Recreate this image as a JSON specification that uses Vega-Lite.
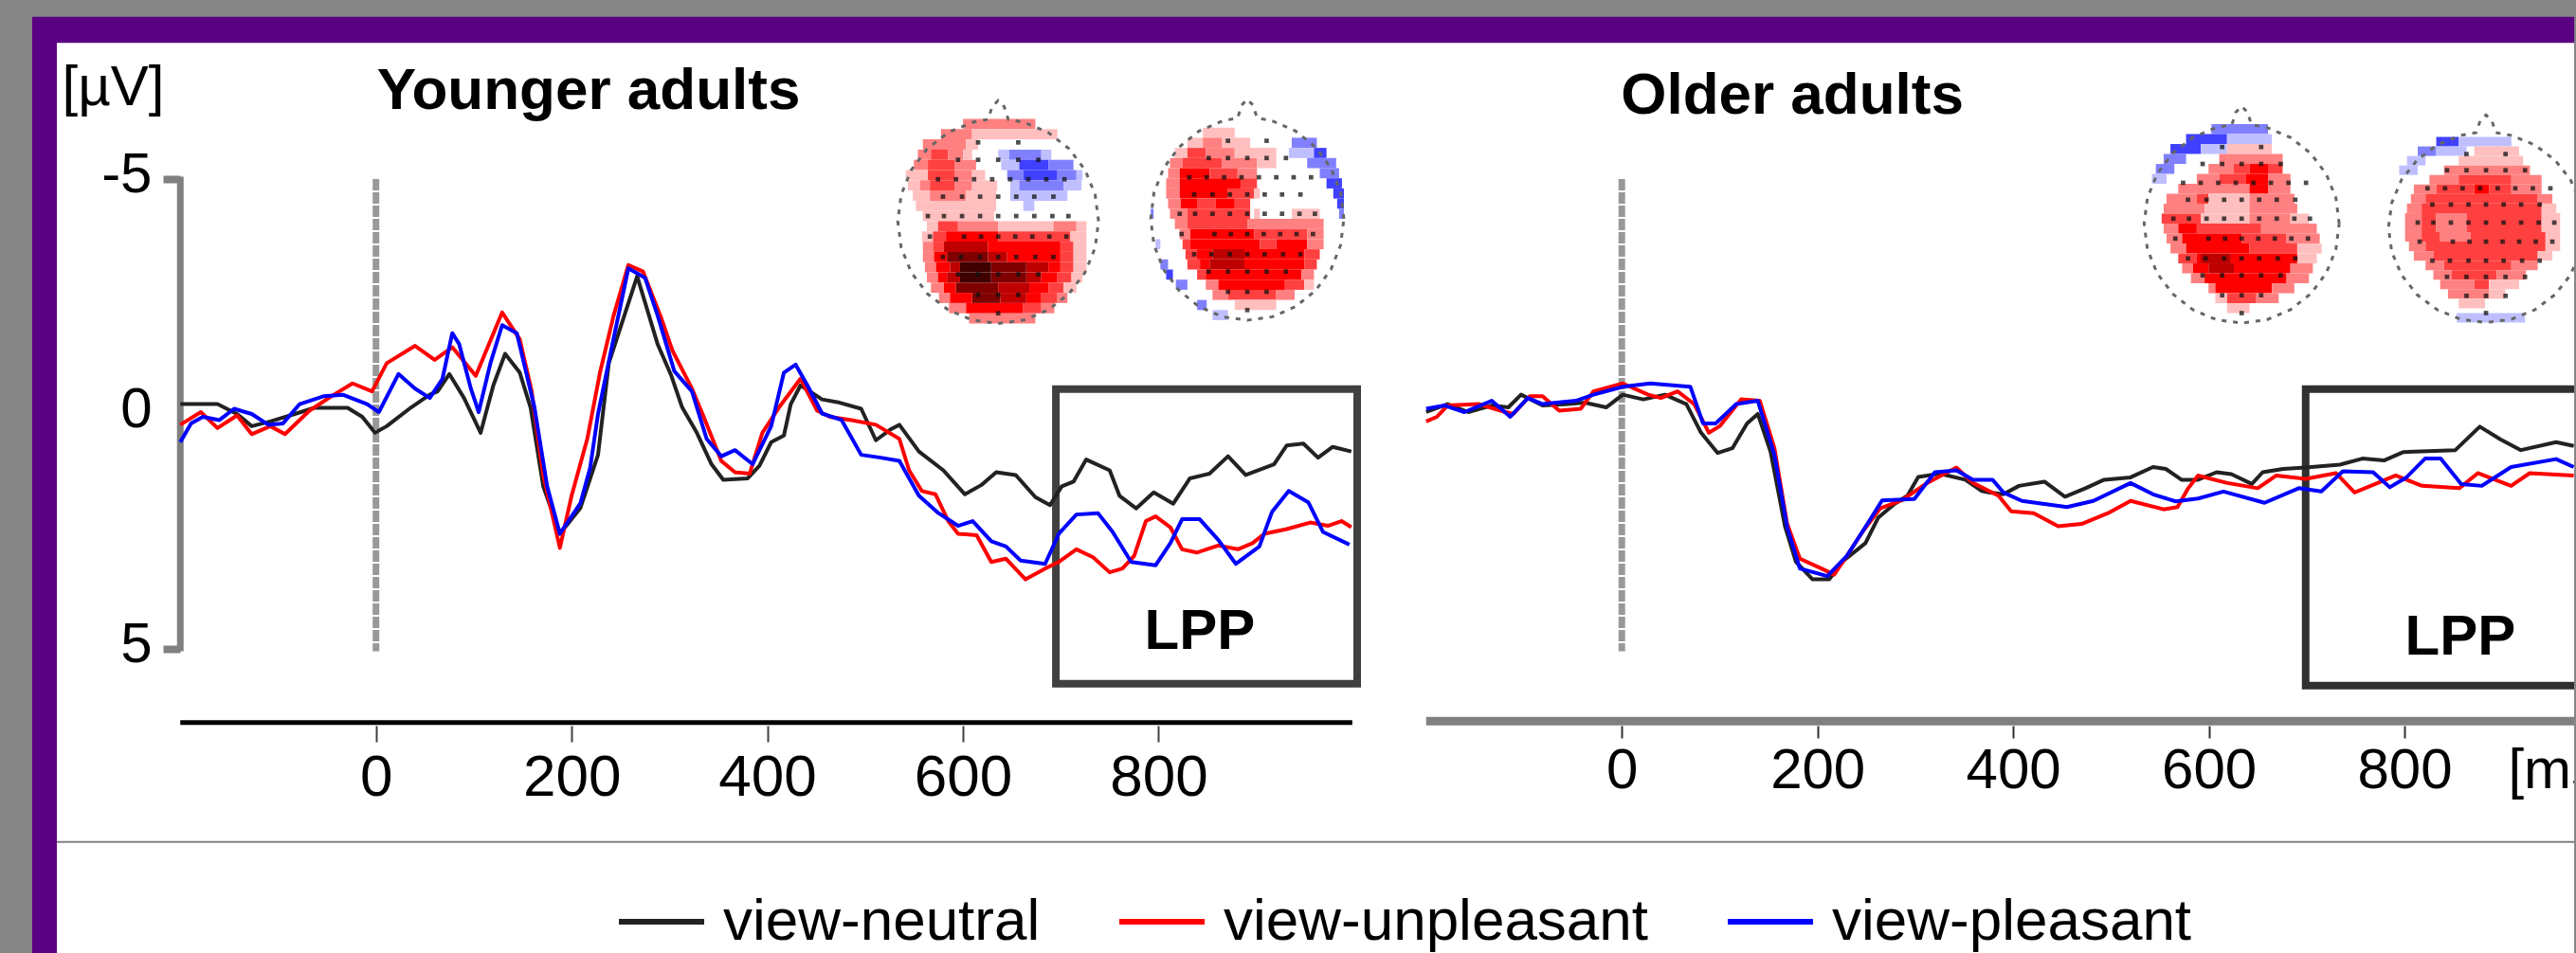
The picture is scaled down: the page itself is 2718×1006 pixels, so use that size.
{"$schema":"https://vega.github.io/schema/vega-lite/v6.json","width":2718,"height":1006,"autosize":{"type":"fit","contains":"padding"},"padding":0,"background":"#858585","config":{"view":{"stroke":null},"font":"Liberation Sans"},
"datasets":{
"frame":[{"a":-351.4,"b":2247,"c":-8.45,"d":11.47,"k":"frame"},{"a":-326.2,"b":2247,"c":-7.9,"d":11.47,"k":"paper"}],
"young":[
{"s":"view-neutral","t":-200,"v":-0.21},{"s":"view-neutral","t":-162,"v":-0.21},{"s":"view-neutral","t":-142,"v":0},{"s":"view-neutral","t":-127,"v":0.26},{"s":"view-neutral","t":-108,"v":0.16},{"s":"view-neutral","t":-83,"v":0},{"s":"view-neutral","t":-63,"v":-0.13},{"s":"view-neutral","t":-29,"v":-0.13},{"s":"view-neutral","t":-14,"v":0.06},{"s":"view-neutral","t":-1,"v":0.4},{"s":"view-neutral","t":11,"v":0.26},{"s":"view-neutral","t":36,"v":-0.14},{"s":"view-neutral","t":55,"v":-0.41},{"s":"view-neutral","t":63,"v":-0.48},{"s":"view-neutral","t":75,"v":-0.85},{"s":"view-neutral","t":90,"v":-0.34},{"s":"view-neutral","t":107,"v":0.4},{"s":"view-neutral","t":120,"v":-0.61},{"s":"view-neutral","t":132,"v":-1.28},{"s":"view-neutral","t":147,"v":-0.88},{"s":"view-neutral","t":158,"v":-0.14},{"s":"view-neutral","t":171,"v":1.54},{"s":"view-neutral","t":188,"v":2.55},{"s":"view-neutral","t":209,"v":2},{"s":"view-neutral","t":227,"v":0.87},{"s":"view-neutral","t":238,"v":-1.08},{"s":"view-neutral","t":267,"v":-2.93},{"s":"view-neutral","t":288,"v":-1.48},{"s":"view-neutral","t":302,"v":-0.81},{"s":"view-neutral","t":313,"v":-0.14},{"s":"view-neutral","t":328,"v":0.4},{"s":"view-neutral","t":343,"v":1.07},{"s":"view-neutral","t":355,"v":1.4},{"s":"view-neutral","t":380,"v":1.37},{"s":"view-neutral","t":392,"v":1.1},{"s":"view-neutral","t":404,"v":0.6},{"s":"view-neutral","t":417,"v":0.46},{"s":"view-neutral","t":424,"v":-0.21},{"s":"view-neutral","t":434,"v":-0.61},{"s":"view-neutral","t":456,"v":-0.31},{"s":"view-neutral","t":474,"v":-0.24},{"s":"view-neutral","t":496,"v":-0.11},{"s":"view-neutral","t":511,"v":0.56},{"s":"view-neutral","t":526,"v":0.33},{"s":"view-neutral","t":535,"v":0.23},{"s":"view-neutral","t":555,"v":0.8},{"s":"view-neutral","t":580,"v":1.2},{"s":"view-neutral","t":602,"v":1.71},{"s":"view-neutral","t":619,"v":1.51},{"s":"view-neutral","t":634,"v":1.24},{"s":"view-neutral","t":654,"v":1.3},{"s":"view-neutral","t":674,"v":1.77},{"s":"view-neutral","t":689,"v":1.94},{"s":"view-neutral","t":701,"v":1.54},{"s":"view-neutral","t":713,"v":1.44},{"s":"view-neutral","t":726,"v":0.97},{"s":"view-neutral","t":750,"v":1.2},{"s":"view-neutral","t":760,"v":1.74},{"s":"view-neutral","t":777,"v":2.01},{"s":"view-neutral","t":795,"v":1.67},{"s":"view-neutral","t":815,"v":1.91},{"s":"view-neutral","t":832,"v":1.37},{"s":"view-neutral","t":852,"v":1.27},{"s":"view-neutral","t":871,"v":0.9},{"s":"view-neutral","t":889,"v":1.3},{"s":"view-neutral","t":918,"v":1.07},{"s":"view-neutral","t":931,"v":0.67},{"s":"view-neutral","t":948,"v":0.63},{"s":"view-neutral","t":963,"v":0.93},{"s":"view-neutral","t":978,"v":0.7},{"s":"view-neutral","t":997,"v":0.8},
{"s":"view-unpleasant","t":-200,"v":0.23},{"s":"view-unpleasant","t":-179,"v":-0.04},{"s":"view-unpleasant","t":-162,"v":0.3},{"s":"view-unpleasant","t":-142,"v":0.03},{"s":"view-unpleasant","t":-127,"v":0.43},{"s":"view-unpleasant","t":-108,"v":0.26},{"s":"view-unpleasant","t":-93,"v":0.43},{"s":"view-unpleasant","t":-68,"v":-0.07},{"s":"view-unpleasant","t":-43,"v":-0.41},{"s":"view-unpleasant","t":-24,"v":-0.65},{"s":"view-unpleasant","t":-4,"v":-0.48},{"s":"view-unpleasant","t":11,"v":-1.08},{"s":"view-unpleasant","t":40,"v":-1.45},{"s":"view-unpleasant","t":60,"v":-1.15},{"s":"view-unpleasant","t":78,"v":-1.42},{"s":"view-unpleasant","t":102,"v":-0.81},{"s":"view-unpleasant","t":129,"v":-2.16},{"s":"view-unpleasant","t":147,"v":-1.59},{"s":"view-unpleasant","t":159,"v":-0.5},{"s":"view-unpleasant","t":171,"v":1.3},{"s":"view-unpleasant","t":188,"v":2.85},{"s":"view-unpleasant","t":200,"v":1.74},{"s":"view-unpleasant","t":216,"v":0.53},{"s":"view-unpleasant","t":229,"v":-0.88},{"s":"view-unpleasant","t":243,"v":-2.1},{"s":"view-unpleasant","t":258,"v":-3.17},{"s":"view-unpleasant","t":273,"v":-3.03},{"s":"view-unpleasant","t":292,"v":-2.02},{"s":"view-unpleasant","t":303,"v":-1.35},{"s":"view-unpleasant","t":323,"v":-0.54},{"s":"view-unpleasant","t":335,"v":0.06},{"s":"view-unpleasant","t":353,"v":1},{"s":"view-unpleasant","t":367,"v":1.24},{"s":"view-unpleasant","t":382,"v":1.27},{"s":"view-unpleasant","t":395,"v":0.4},{"s":"view-unpleasant","t":412,"v":-0.14},{"s":"view-unpleasant","t":434,"v":-0.75},{"s":"view-unpleasant","t":451,"v":-0.07},{"s":"view-unpleasant","t":464,"v":0.06},{"s":"view-unpleasant","t":486,"v":0.13},{"s":"view-unpleasant","t":511,"v":0.23},{"s":"view-unpleasant","t":535,"v":0.53},{"s":"view-unpleasant","t":545,"v":1.2},{"s":"view-unpleasant","t":558,"v":1.64},{"s":"view-unpleasant","t":572,"v":1.71},{"s":"view-unpleasant","t":585,"v":2.28},{"s":"view-unpleasant","t":595,"v":2.55},{"s":"view-unpleasant","t":614,"v":2.58},{"s":"view-unpleasant","t":629,"v":3.15},{"s":"view-unpleasant","t":644,"v":3.08},{"s":"view-unpleasant","t":664,"v":3.52},{"s":"view-unpleasant","t":684,"v":3.29},{"s":"view-unpleasant","t":698,"v":3.15},{"s":"view-unpleasant","t":716,"v":2.88},{"s":"view-unpleasant","t":733,"v":3.05},{"s":"view-unpleasant","t":750,"v":3.37},{"s":"view-unpleasant","t":763,"v":3.29},{"s":"view-unpleasant","t":775,"v":3.02},{"s":"view-unpleasant","t":787,"v":2.28},{"s":"view-unpleasant","t":797,"v":2.18},{"s":"view-unpleasant","t":812,"v":2.41},{"s":"view-unpleasant","t":824,"v":2.88},{"s":"view-unpleasant","t":839,"v":2.95},{"s":"view-unpleasant","t":861,"v":2.8},{"s":"view-unpleasant","t":881,"v":2.88},{"s":"view-unpleasant","t":896,"v":2.75},{"s":"view-unpleasant","t":908,"v":2.55},{"s":"view-unpleasant","t":931,"v":2.45},{"s":"view-unpleasant","t":955,"v":2.31},{"s":"view-unpleasant","t":973,"v":2.38},{"s":"view-unpleasant","t":987,"v":2.28},{"s":"view-unpleasant","t":997,"v":2.41},
{"s":"view-pleasant","t":-200,"v":0.6},{"s":"view-pleasant","t":-189,"v":0.2},{"s":"view-pleasant","t":-177,"v":0.06},{"s":"view-pleasant","t":-160,"v":0.13},{"s":"view-pleasant","t":-145,"v":-0.11},{"s":"view-pleasant","t":-127,"v":0},{"s":"view-pleasant","t":-110,"v":0.23},{"s":"view-pleasant","t":-95,"v":0.2},{"s":"view-pleasant","t":-78,"v":-0.21},{"s":"view-pleasant","t":-53,"v":-0.38},{"s":"view-pleasant","t":-34,"v":-0.41},{"s":"view-pleasant","t":-9,"v":-0.21},{"s":"view-pleasant","t":3,"v":-0.04},{"s":"view-pleasant","t":23,"v":-0.85},{"s":"view-pleasant","t":40,"v":-0.54},{"s":"view-pleasant","t":55,"v":-0.34},{"s":"view-pleasant","t":68,"v":-0.75},{"s":"view-pleasant","t":78,"v":-1.72},{"s":"view-pleasant","t":85,"v":-1.49},{"s":"view-pleasant","t":97,"v":-0.54},{"s":"view-pleasant","t":105,"v":-0.04},{"s":"view-pleasant","t":117,"v":-1.08},{"s":"view-pleasant","t":129,"v":-1.89},{"s":"view-pleasant","t":144,"v":-1.72},{"s":"view-pleasant","t":162,"v":-0.14},{"s":"view-pleasant","t":175,"v":1.54},{"s":"view-pleasant","t":188,"v":2.55},{"s":"view-pleasant","t":209,"v":1.9},{"s":"view-pleasant","t":219,"v":1.14},{"s":"view-pleasant","t":227,"v":0},{"s":"view-pleasant","t":241,"v":-1.42},{"s":"view-pleasant","t":258,"v":-3.1},{"s":"view-pleasant","t":275,"v":-2.9},{"s":"view-pleasant","t":288,"v":-2.09},{"s":"view-pleasant","t":305,"v":-0.91},{"s":"view-pleasant","t":323,"v":-0.48},{"s":"view-pleasant","t":338,"v":0.53},{"s":"view-pleasant","t":353,"v":0.9},{"s":"view-pleasant","t":367,"v":0.77},{"s":"view-pleasant","t":385,"v":1.07},{"s":"view-pleasant","t":404,"v":0.26},{"s":"view-pleasant","t":417,"v":-0.88},{"s":"view-pleasant","t":429,"v":-1.05},{"s":"view-pleasant","t":441,"v":-0.61},{"s":"view-pleasant","t":456,"v":-0.01},{"s":"view-pleasant","t":476,"v":0.13},{"s":"view-pleasant","t":496,"v":0.87},{"s":"view-pleasant","t":516,"v":0.93},{"s":"view-pleasant","t":535,"v":1},{"s":"view-pleasant","t":555,"v":1.74},{"s":"view-pleasant","t":575,"v":2.11},{"s":"view-pleasant","t":595,"v":2.38},{"s":"view-pleasant","t":610,"v":2.28},{"s":"view-pleasant","t":629,"v":2.71},{"s":"view-pleasant","t":644,"v":2.82},{"s":"view-pleasant","t":659,"v":3.12},{"s":"view-pleasant","t":684,"v":3.19},{"s":"view-pleasant","t":698,"v":2.55},{"s":"view-pleasant","t":716,"v":2.14},{"s":"view-pleasant","t":738,"v":2.11},{"s":"view-pleasant","t":753,"v":2.51},{"s":"view-pleasant","t":772,"v":3.15},{"s":"view-pleasant","t":797,"v":3.22},{"s":"view-pleasant","t":812,"v":2.75},{"s":"view-pleasant","t":824,"v":2.24},{"s":"view-pleasant","t":842,"v":2.24},{"s":"view-pleasant","t":861,"v":2.68},{"s":"view-pleasant","t":879,"v":3.19},{"s":"view-pleasant","t":903,"v":2.82},{"s":"view-pleasant","t":916,"v":2.08},{"s":"view-pleasant","t":933,"v":1.64},{"s":"view-pleasant","t":953,"v":1.88},{"s":"view-pleasant","t":968,"v":2.51},{"s":"view-pleasant","t":995,"v":2.78}
],
"older":[
{"s":"view-neutral","t":-200,"v":-0.04},{"s":"view-neutral","t":-178,"v":-0.21},{"s":"view-neutral","t":-157,"v":-0.04},{"s":"view-neutral","t":-133,"v":-0.18},{"s":"view-neutral","t":-116,"v":-0.14},{"s":"view-neutral","t":-103,"v":-0.41},{"s":"view-neutral","t":-81,"v":-0.18},{"s":"view-neutral","t":-55,"v":-0.21},{"s":"view-neutral","t":-38,"v":-0.24},{"s":"view-neutral","t":-16,"v":-0.14},{"s":"view-neutral","t":1,"v":-0.41},{"s":"view-neutral","t":22,"v":-0.31},{"s":"view-neutral","t":44,"v":-0.41},{"s":"view-neutral","t":66,"v":-0.21},{"s":"view-neutral","t":81,"v":0.4},{"s":"view-neutral","t":98,"v":0.83},{"s":"view-neutral","t":113,"v":0.73},{"s":"view-neutral","t":128,"v":0.2},{"s":"view-neutral","t":139,"v":0},{"s":"view-neutral","t":152,"v":0.8},{"s":"view-neutral","t":167,"v":2.41},{"s":"view-neutral","t":178,"v":3.15},{"s":"view-neutral","t":195,"v":3.52},{"s":"view-neutral","t":212,"v":3.52},{"s":"view-neutral","t":225,"v":3.15},{"s":"view-neutral","t":249,"v":2.75},{"s":"view-neutral","t":262,"v":2.21},{"s":"view-neutral","t":279,"v":1.91},{"s":"view-neutral","t":292,"v":1.74},{"s":"view-neutral","t":303,"v":1.34},{"s":"view-neutral","t":325,"v":1.27},{"s":"view-neutral","t":351,"v":1.4},{"s":"view-neutral","t":368,"v":1.64},{"s":"view-neutral","t":375,"v":1.67},{"s":"view-neutral","t":390,"v":1.71},{"s":"view-neutral","t":406,"v":1.53},{"s":"view-neutral","t":432,"v":1.44},{"s":"view-neutral","t":453,"v":1.76},{"s":"view-neutral","t":474,"v":1.58},{"s":"view-neutral","t":493,"v":1.4},{"s":"view-neutral","t":520,"v":1.35},{"s":"view-neutral","t":543,"v":1.13},{"s":"view-neutral","t":556,"v":1.17},{"s":"view-neutral","t":572,"v":1.4},{"s":"view-neutral","t":589,"v":1.4},{"s":"view-neutral","t":608,"v":1.24},{"s":"view-neutral","t":623,"v":1.28},{"s":"view-neutral","t":644,"v":1.49},{"s":"view-neutral","t":655,"v":1.24},{"s":"view-neutral","t":676,"v":1.17},{"s":"view-neutral","t":699,"v":1.14},{"s":"view-neutral","t":734,"v":1.08},{"s":"view-neutral","t":757,"v":0.95},{"s":"view-neutral","t":779,"v":0.99},{"s":"view-neutral","t":799,"v":0.81},{"s":"view-neutral","t":852,"v":0.77},{"s":"view-neutral","t":877,"v":0.27},{"s":"view-neutral","t":898,"v":0.54},{"s":"view-neutral","t":919,"v":0.77},{"s":"view-neutral","t":955,"v":0.6},{"s":"view-neutral","t":973,"v":0.68},
{"s":"view-unpleasant","t":-200,"v":0.16},{"s":"view-unpleasant","t":-189,"v":0.06},{"s":"view-unpleasant","t":-178,"v":-0.18},{"s":"view-unpleasant","t":-146,"v":-0.21},{"s":"view-unpleasant","t":-124,"v":-0.07},{"s":"view-unpleasant","t":-111,"v":0},{"s":"view-unpleasant","t":-94,"v":-0.38},{"s":"view-unpleasant","t":-81,"v":-0.38},{"s":"view-unpleasant","t":-64,"v":-0.07},{"s":"view-unpleasant","t":-42,"v":-0.11},{"s":"view-unpleasant","t":-29,"v":-0.48},{"s":"view-unpleasant","t":1,"v":-0.65},{"s":"view-unpleasant","t":27,"v":-0.41},{"s":"view-unpleasant","t":40,"v":-0.34},{"s":"view-unpleasant","t":57,"v":-0.48},{"s":"view-unpleasant","t":74,"v":-0.21},{"s":"view-unpleasant","t":89,"v":0.4},{"s":"view-unpleasant","t":100,"v":0.26},{"s":"view-unpleasant","t":122,"v":-0.31},{"s":"view-unpleasant","t":141,"v":-0.28},{"s":"view-unpleasant","t":156,"v":0.73},{"s":"view-unpleasant","t":169,"v":2.34},{"s":"view-unpleasant","t":182,"v":3.08},{"s":"view-unpleasant","t":204,"v":3.29},{"s":"view-unpleasant","t":217,"v":3.42},{"s":"view-unpleasant","t":230,"v":3.02},{"s":"view-unpleasant","t":247,"v":2.48},{"s":"view-unpleasant","t":264,"v":2.01},{"s":"view-unpleasant","t":286,"v":1.84},{"s":"view-unpleasant","t":312,"v":1.47},{"s":"view-unpleasant","t":342,"v":1.14},{"s":"view-unpleasant","t":359,"v":1.47},{"s":"view-unpleasant","t":385,"v":1.74},{"s":"view-unpleasant","t":398,"v":2.07},{"s":"view-unpleasant","t":421,"v":2.11},{"s":"view-unpleasant","t":446,"v":2.39},{"s":"view-unpleasant","t":470,"v":2.34},{"s":"view-unpleasant","t":497,"v":2.11},{"s":"view-unpleasant","t":520,"v":1.85},{"s":"view-unpleasant","t":554,"v":2.03},{"s":"view-unpleasant","t":568,"v":1.98},{"s":"view-unpleasant","t":579,"v":1.58},{"s":"view-unpleasant","t":589,"v":1.31},{"s":"view-unpleasant","t":619,"v":1.47},{"s":"view-unpleasant","t":650,"v":1.58},{"s":"view-unpleasant","t":669,"v":1.31},{"s":"view-unpleasant","t":699,"v":1.38},{"s":"view-unpleasant","t":730,"v":1.26},{"s":"view-unpleasant","t":749,"v":1.67},{"s":"view-unpleasant","t":776,"v":1.44},{"s":"view-unpleasant","t":791,"v":1.31},{"s":"view-unpleasant","t":818,"v":1.53},{"s":"view-unpleasant","t":856,"v":1.58},{"s":"view-unpleasant","t":875,"v":1.26},{"s":"view-unpleasant","t":909,"v":1.53},{"s":"view-unpleasant","t":928,"v":1.26},{"s":"view-unpleasant","t":973,"v":1.31},
{"s":"view-pleasant","t":-200,"v":-0.11},{"s":"view-pleasant","t":-181,"v":-0.18},{"s":"view-pleasant","t":-161,"v":-0.04},{"s":"view-pleasant","t":-133,"v":-0.28},{"s":"view-pleasant","t":-114,"v":0.06},{"s":"view-pleasant","t":-96,"v":-0.34},{"s":"view-pleasant","t":-81,"v":-0.21},{"s":"view-pleasant","t":-47,"v":-0.28},{"s":"view-pleasant","t":-29,"v":-0.41},{"s":"view-pleasant","t":1,"v":-0.58},{"s":"view-pleasant","t":29,"v":-0.65},{"s":"view-pleasant","t":70,"v":-0.58},{"s":"view-pleasant","t":83,"v":0.2},{"s":"view-pleasant","t":96,"v":0.2},{"s":"view-pleasant","t":117,"v":-0.21},{"s":"view-pleasant","t":139,"v":-0.28},{"s":"view-pleasant","t":156,"v":0.87},{"s":"view-pleasant","t":169,"v":2.41},{"s":"view-pleasant","t":182,"v":3.29},{"s":"view-pleasant","t":210,"v":3.45},{"s":"view-pleasant","t":230,"v":3.02},{"s":"view-pleasant","t":251,"v":2.34},{"s":"view-pleasant","t":266,"v":1.84},{"s":"view-pleasant","t":299,"v":1.81},{"s":"view-pleasant","t":320,"v":1.24},{"s":"view-pleasant","t":342,"v":1.2},{"s":"view-pleasant","t":359,"v":1.4},{"s":"view-pleasant","t":379,"v":1.4},{"s":"view-pleasant","t":390,"v":1.67},{"s":"view-pleasant","t":409,"v":1.85},{"s":"view-pleasant","t":455,"v":1.98},{"s":"view-pleasant","t":482,"v":1.85},{"s":"view-pleasant","t":520,"v":1.47},{"s":"view-pleasant","t":543,"v":1.71},{"s":"view-pleasant","t":566,"v":1.86},{"s":"view-pleasant","t":589,"v":1.8},{"s":"view-pleasant","t":615,"v":1.65},{"s":"view-pleasant","t":657,"v":1.89},{"s":"view-pleasant","t":692,"v":1.58},{"s":"view-pleasant","t":715,"v":1.65},{"s":"view-pleasant","t":737,"v":1.22},{"s":"view-pleasant","t":768,"v":1.24},{"s":"view-pleasant","t":785,"v":1.56},{"s":"view-pleasant","t":802,"v":1.35},{"s":"view-pleasant","t":821,"v":0.95},{"s":"view-pleasant","t":837,"v":0.95},{"s":"view-pleasant","t":858,"v":1.49},{"s":"view-pleasant","t":879,"v":1.53},{"s":"view-pleasant","t":909,"v":1.13},{"s":"view-pleasant","t":955,"v":0.96},{"s":"view-pleasant","t":973,"v":1.13}
],
"rim":[{"i":0,"u":1,"w":0},{"i":1,"u":0.966,"w":0.259},{"i":2,"u":0.866,"w":0.5},{"i":3,"u":0.707,"w":0.707},{"i":4,"u":0.5,"w":0.866},{"i":5,"u":0.259,"w":0.966},{"i":6,"u":0.1,"w":0.995},{"i":7,"u":0.06,"w":1.12},{"i":8,"u":0,"w":1.18},{"i":9,"u":-0.06,"w":1.12},{"i":10,"u":-0.1,"w":0.995},{"i":11,"u":-0.259,"w":0.966},{"i":12,"u":-0.5,"w":0.866},{"i":13,"u":-0.707,"w":0.707},{"i":14,"u":-0.866,"w":0.5},{"i":15,"u":-0.966,"w":0.259},{"i":16,"u":-1,"w":0},{"i":17,"u":-0.966,"w":-0.259},{"i":18,"u":-0.866,"w":-0.5},{"i":19,"u":-0.707,"w":-0.707},{"i":20,"u":-0.5,"w":-0.866},{"i":21,"u":-0.259,"w":-0.966},{"i":22,"u":0,"w":-1},{"i":23,"u":0.259,"w":-0.966},{"i":24,"u":0.5,"w":-0.866},{"i":25,"u":0.707,"w":-0.707},{"i":26,"u":0.866,"w":-0.5},{"i":27,"u":0.966,"w":-0.259},{"i":28,"u":1,"w":0}],
"electrodes":[{"u":-0.2,"w":0.77},{"u":0.2,"w":0.77},{"u":-0.4,"w":0.6},{"u":-0.2,"w":0.6},{"u":0,"w":0.6},{"u":0.2,"w":0.6},{"u":0.4,"w":0.6},{"u":-0.6,"w":0.41},{"u":-0.42,"w":0.41},{"u":-0.24,"w":0.41},{"u":-0.06,"w":0.41},{"u":0.12,"w":0.41},{"u":0.3,"w":0.41},{"u":0.48,"w":0.41},{"u":0.66,"w":0.41},{"u":-0.55,"w":0.24},{"u":-0.36,"w":0.24},{"u":-0.18,"w":0.24},{"u":0,"w":0.24},{"u":0.18,"w":0.24},{"u":0.36,"w":0.24},{"u":0.55,"w":0.24},{"u":-0.7,"w":0.05},{"u":-0.54,"w":0.05},{"u":-0.36,"w":0.05},{"u":-0.18,"w":0.05},{"u":0,"w":0.05},{"u":0.18,"w":0.05},{"u":0.36,"w":0.05},{"u":0.54,"w":0.05},{"u":0.7,"w":0.05},{"u":-0.68,"w":-0.15},{"u":-0.34,"w":-0.15},{"u":-0.17,"w":-0.15},{"u":0,"w":-0.15},{"u":0.17,"w":-0.15},{"u":0.34,"w":-0.15},{"u":0.51,"w":-0.15},{"u":0.68,"w":-0.15},{"u":-0.55,"w":-0.35},{"u":-0.37,"w":-0.35},{"u":-0.18,"w":-0.35},{"u":0,"w":-0.35},{"u":0.18,"w":-0.35},{"u":0.37,"w":-0.35},{"u":0.55,"w":-0.35},{"u":-0.4,"w":-0.52},{"u":-0.2,"w":-0.52},{"u":0,"w":-0.52},{"u":0.2,"w":-0.52},{"u":0.4,"w":-0.52},{"u":-0.2,"w":-0.72},{"u":0,"w":-0.72},{"u":0.2,"w":-0.72},{"u":0,"w":-0.9}],
"map1":[{"a":-0.35,"b":0.37,"c":0.9,"d":1,"v":2},{"a":-0.57,"b":-0.26,"c":0.8,"d":0.9,"v":2},{"a":-0.26,"b":0.59,"c":0.8,"d":0.9,"v":1},{"a":-0.75,"b":-0.32,"c":0.7,"d":0.8,"v":2},{"a":-0.32,"b":-0.2,"c":0.7,"d":0.8,"v":1},{"a":-0.8,"b":-0.67,"c":0.6,"d":0.7,"v":2},{"a":-0.67,"b":-0.5,"c":0.6,"d":0.7,"v":3},{"a":-0.5,"b":-0.35,"c":0.6,"d":0.7,"v":2},{"a":-0.35,"b":-0.26,"c":0.6,"d":0.7,"v":1},{"a":0,"b":0.11,"c":0.6,"d":0.7,"v":-1},{"a":0.11,"b":0.43,"c":0.6,"d":0.7,"v":-2},{"a":0.43,"b":0.53,"c":0.6,"d":0.7,"v":-1},{"a":-0.84,"b":-0.7,"c":0.5,"d":0.6,"v":2},{"a":-0.7,"b":-0.43,"c":0.5,"d":0.6,"v":3},{"a":-0.43,"b":-0.22,"c":0.5,"d":0.6,"v":2},{"a":0.03,"b":0.21,"c":0.5,"d":0.6,"v":-1},{"a":0.21,"b":0.5,"c":0.5,"d":0.6,"v":-3},{"a":0.5,"b":0.75,"c":0.5,"d":0.6,"v":-2},{"a":-0.92,"b":-0.7,"c":0.4,"d":0.5,"v":1},{"a":-0.7,"b":-0.43,"c":0.4,"d":0.5,"v":3},{"a":-0.43,"b":-0.26,"c":0.4,"d":0.5,"v":2},{"a":-0.26,"b":-0.13,"c":0.4,"d":0.5,"v":1},{"a":0.09,"b":0.25,"c":0.4,"d":0.5,"v":-2},{"a":0.25,"b":0.59,"c":0.4,"d":0.5,"v":-3},{"a":0.59,"b":0.78,"c":0.4,"d":0.5,"v":-2},{"a":0.78,"b":0.84,"c":0.4,"d":0.5,"v":-1},{"a":-0.9,"b":-0.78,"c":0.3,"d":0.4,"v":1},{"a":-0.78,"b":-0.68,"c":0.3,"d":0.4,"v":2},{"a":-0.68,"b":-0.43,"c":0.3,"d":0.4,"v":3},{"a":-0.43,"b":-0.26,"c":0.3,"d":0.4,"v":2},{"a":-0.26,"b":-0.01,"c":0.3,"d":0.4,"v":1},{"a":0.12,"b":0.21,"c":0.3,"d":0.4,"v":-1},{"a":0.21,"b":0.65,"c":0.3,"d":0.4,"v":-2},{"a":0.65,"b":0.83,"c":0.3,"d":0.4,"v":-1},{"a":-0.85,"b":-0.68,"c":0.2,"d":0.3,"v":1},{"a":-0.68,"b":-0.32,"c":0.2,"d":0.3,"v":2},{"a":-0.32,"b":-0.02,"c":0.2,"d":0.3,"v":1},{"a":0.12,"b":0.69,"c":0.2,"d":0.3,"v":-1},{"a":-0.82,"b":-0.02,"c":0.1,"d":0.2,"v":1},{"a":0.25,"b":0.36,"c":0.1,"d":0.2,"v":-1},{"a":-0.75,"b":-0.04,"c":0,"d":0.1,"v":1},{"a":-0.71,"b":-0.6,"c":-0.1,"d":0,"v":1},{"a":-0.6,"b":-0.4,"c":-0.1,"d":0,"v":3},{"a":-0.4,"b":0,"c":-0.1,"d":0,"v":2},{"a":0,"b":0.55,"c":-0.1,"d":0,"v":1},{"a":0.55,"b":0.78,"c":-0.1,"d":0,"v":2},{"a":0.78,"b":0.88,"c":-0.1,"d":0,"v":1},{"a":-0.76,"b":-0.65,"c":-0.2,"d":-0.1,"v":1},{"a":-0.65,"b":-0.52,"c":-0.2,"d":-0.1,"v":3},{"a":-0.52,"b":0,"c":-0.2,"d":-0.1,"v":4},{"a":0,"b":0.72,"c":-0.2,"d":-0.1,"v":3},{"a":0.72,"b":0.88,"c":-0.2,"d":-0.1,"v":1},{"a":-0.75,"b":-0.65,"c":-0.3,"d":-0.2,"v":2},{"a":-0.65,"b":-0.54,"c":-0.3,"d":-0.2,"v":3},{"a":-0.54,"b":-0.1,"c":-0.3,"d":-0.2,"v":5},{"a":-0.1,"b":0.62,"c":-0.3,"d":-0.2,"v":4},{"a":0.62,"b":0.75,"c":-0.3,"d":-0.2,"v":3},{"a":0.75,"b":0.88,"c":-0.3,"d":-0.2,"v":1},{"a":-0.75,"b":-0.64,"c":-0.4,"d":-0.3,"v":2},{"a":-0.64,"b":-0.51,"c":-0.4,"d":-0.3,"v":4},{"a":-0.51,"b":-0.1,"c":-0.4,"d":-0.3,"v":6},{"a":-0.1,"b":0.09,"c":-0.4,"d":-0.3,"v":5},{"a":0.09,"b":0.62,"c":-0.4,"d":-0.3,"v":4},{"a":0.62,"b":0.75,"c":-0.4,"d":-0.3,"v":3},{"a":0.75,"b":0.88,"c":-0.4,"d":-0.3,"v":1},{"a":-0.73,"b":-0.62,"c":-0.5,"d":-0.4,"v":2},{"a":-0.62,"b":-0.48,"c":-0.5,"d":-0.4,"v":4},{"a":-0.48,"b":-0.38,"c":-0.5,"d":-0.4,"v":5},{"a":-0.38,"b":-0.07,"c":-0.5,"d":-0.4,"v":7},{"a":-0.07,"b":0.28,"c":-0.5,"d":-0.4,"v":6},{"a":0.28,"b":0.5,"c":-0.5,"d":-0.4,"v":5},{"a":0.5,"b":0.62,"c":-0.5,"d":-0.4,"v":4},{"a":0.62,"b":0.75,"c":-0.5,"d":-0.4,"v":3},{"a":0.75,"b":0.88,"c":-0.5,"d":-0.4,"v":1},{"a":-0.71,"b":-0.6,"c":-0.6,"d":-0.5,"v":2},{"a":-0.6,"b":-0.51,"c":-0.6,"d":-0.5,"v":4},{"a":-0.51,"b":-0.38,"c":-0.6,"d":-0.5,"v":5},{"a":-0.38,"b":-0.07,"c":-0.6,"d":-0.5,"v":7},{"a":-0.07,"b":0.28,"c":-0.6,"d":-0.5,"v":6},{"a":0.28,"b":0.43,"c":-0.6,"d":-0.5,"v":5},{"a":0.43,"b":0.59,"c":-0.6,"d":-0.5,"v":4},{"a":0.59,"b":0.73,"c":-0.6,"d":-0.5,"v":3},{"a":0.73,"b":0.84,"c":-0.6,"d":-0.5,"v":1},{"a":-0.67,"b":-0.54,"c":-0.7,"d":-0.6,"v":2},{"a":-0.54,"b":-0.42,"c":-0.7,"d":-0.6,"v":4},{"a":-0.42,"b":0,"c":-0.7,"d":-0.6,"v":6},{"a":0,"b":0.31,"c":-0.7,"d":-0.6,"v":5},{"a":0.31,"b":0.5,"c":-0.7,"d":-0.6,"v":4},{"a":0.5,"b":0.65,"c":-0.7,"d":-0.6,"v":3},{"a":0.65,"b":0.78,"c":-0.7,"d":-0.6,"v":1},{"a":-0.59,"b":-0.48,"c":-0.8,"d":-0.7,"v":2},{"a":-0.48,"b":-0.26,"c":-0.8,"d":-0.7,"v":4},{"a":-0.26,"b":0.02,"c":-0.8,"d":-0.7,"v":6},{"a":0.02,"b":0.28,"c":-0.8,"d":-0.7,"v":5},{"a":0.28,"b":0.43,"c":-0.8,"d":-0.7,"v":4},{"a":0.43,"b":0.59,"c":-0.8,"d":-0.7,"v":3},{"a":0.59,"b":0.69,"c":-0.8,"d":-0.7,"v":2},{"a":-0.49,"b":-0.32,"c":-0.9,"d":-0.8,"v":2},{"a":-0.32,"b":0.25,"c":-0.9,"d":-0.8,"v":4},{"a":0.25,"b":0.43,"c":-0.9,"d":-0.8,"v":3},{"a":0.43,"b":0.56,"c":-0.9,"d":-0.8,"v":2},{"a":-0.29,"b":0.37,"c":-1,"d":-0.9,"v":2}],
"map2":[{"a":-0.46,"b":-0.13,"c":0.8,"d":0.9,"v":1},{"a":-0.62,"b":-0.46,"c":0.7,"d":0.8,"v":1},{"a":-0.46,"b":-0.26,"c":0.7,"d":0.8,"v":2},{"a":-0.26,"b":0.03,"c":0.7,"d":0.8,"v":1},{"a":0.46,"b":0.72,"c":0.7,"d":0.8,"v":-2},{"a":-0.75,"b":-0.62,"c":0.6,"d":0.7,"v":1},{"a":-0.62,"b":-0.43,"c":0.6,"d":0.7,"v":3},{"a":-0.43,"b":-0.13,"c":0.6,"d":0.7,"v":2},{"a":-0.13,"b":0.3,"c":0.6,"d":0.7,"v":1},{"a":0.43,"b":0.69,"c":0.6,"d":0.7,"v":-1},{"a":0.69,"b":0.82,"c":0.6,"d":0.7,"v":-3},{"a":-0.8,"b":-0.67,"c":0.5,"d":0.6,"v":2},{"a":-0.67,"b":-0.26,"c":0.5,"d":0.6,"v":3},{"a":-0.26,"b":0.1,"c":0.5,"d":0.6,"v":2},{"a":0.1,"b":0.3,"c":0.5,"d":0.6,"v":1},{"a":0.62,"b":0.92,"c":0.5,"d":0.6,"v":-2},{"a":-0.82,"b":-0.7,"c":0.4,"d":0.5,"v":2},{"a":-0.7,"b":-0.39,"c":0.4,"d":0.5,"v":4},{"a":-0.39,"b":-0.1,"c":0.4,"d":0.5,"v":3},{"a":-0.1,"b":0.1,"c":0.4,"d":0.5,"v":2},{"a":0.75,"b":0.95,"c":0.4,"d":0.5,"v":-2},{"a":-0.84,"b":-0.7,"c":0.3,"d":0.4,"v":2},{"a":-0.7,"b":-0.07,"c":0.3,"d":0.4,"v":4},{"a":-0.07,"b":0.1,"c":0.3,"d":0.4,"v":3},{"a":0.82,"b":0.98,"c":0.3,"d":0.4,"v":-3},{"a":-0.84,"b":-0.7,"c":0.2,"d":0.3,"v":2},{"a":-0.7,"b":-0.2,"c":0.2,"d":0.3,"v":4},{"a":-0.2,"b":0.07,"c":0.2,"d":0.3,"v":3},{"a":0.07,"b":0.13,"c":0.2,"d":0.3,"v":1},{"a":0.89,"b":1,"c":0.2,"d":0.3,"v":-3},{"a":-0.82,"b":-0.69,"c":0.1,"d":0.2,"v":2},{"a":-0.69,"b":-0.52,"c":0.1,"d":0.2,"v":4},{"a":-0.52,"b":-0.33,"c":0.1,"d":0.2,"v":3},{"a":-0.33,"b":-0.13,"c":0.1,"d":0.2,"v":4},{"a":-0.13,"b":0.03,"c":0.1,"d":0.2,"v":3},{"a":0.93,"b":1,"c":0.1,"d":0.2,"v":-3},{"a":-0.8,"b":-0.62,"c":0,"d":0.1,"v":2},{"a":-0.62,"b":0.03,"c":0,"d":0.1,"v":3},{"a":0.07,"b":0.13,"c":0,"d":0.1,"v":1},{"a":0.46,"b":0.75,"c":0,"d":0.1,"v":1},{"a":0.95,"b":1,"c":0,"d":0.1,"v":-2},{"a":-1,"b":-0.97,"c":0,"d":0.1,"v":-2},{"a":-0.75,"b":-0.62,"c":-0.1,"d":0,"v":2},{"a":-0.62,"b":0,"c":-0.1,"d":0,"v":3},{"a":0,"b":0.79,"c":-0.1,"d":0,"v":2},{"a":-0.7,"b":-0.59,"c":-0.2,"d":-0.1,"v":2},{"a":-0.59,"b":0.07,"c":-0.2,"d":-0.1,"v":4},{"a":0.07,"b":0.62,"c":-0.2,"d":-0.1,"v":3},{"a":0.62,"b":0.79,"c":-0.2,"d":-0.1,"v":2},{"a":-0.67,"b":-0.59,"c":-0.3,"d":-0.2,"v":3},{"a":-0.59,"b":0.13,"c":-0.3,"d":-0.2,"v":4},{"a":0.13,"b":0.3,"c":-0.3,"d":-0.2,"v":3},{"a":0.3,"b":0.62,"c":-0.3,"d":-0.2,"v":4},{"a":0.62,"b":0.79,"c":-0.3,"d":-0.2,"v":2},{"a":-0.95,"b":-0.9,"c":-0.3,"d":-0.2,"v":-1},{"a":-0.64,"b":-0.52,"c":-0.4,"d":-0.3,"v":3},{"a":-0.52,"b":-0.36,"c":-0.4,"d":-0.3,"v":4},{"a":-0.36,"b":-0.03,"c":-0.4,"d":-0.3,"v":5},{"a":-0.03,"b":0.59,"c":-0.4,"d":-0.3,"v":4},{"a":0.59,"b":0.75,"c":-0.4,"d":-0.3,"v":3},{"a":-0.62,"b":-0.49,"c":-0.5,"d":-0.4,"v":3},{"a":-0.49,"b":-0.39,"c":-0.5,"d":-0.4,"v":4},{"a":-0.39,"b":-0.03,"c":-0.5,"d":-0.4,"v":5},{"a":-0.03,"b":0.59,"c":-0.5,"d":-0.4,"v":4},{"a":0.59,"b":0.72,"c":-0.5,"d":-0.4,"v":3},{"a":-0.9,"b":-0.82,"c":-0.5,"d":-0.4,"v":-2},{"a":-0.52,"b":-0.43,"c":-0.6,"d":-0.5,"v":3},{"a":-0.43,"b":0.56,"c":-0.6,"d":-0.5,"v":4},{"a":0.56,"b":0.69,"c":-0.6,"d":-0.5,"v":2},{"a":-0.84,"b":-0.77,"c":-0.6,"d":-0.5,"v":-3},{"a":-0.43,"b":-0.3,"c":-0.7,"d":-0.6,"v":2},{"a":-0.3,"b":0.39,"c":-0.7,"d":-0.6,"v":4},{"a":0.39,"b":0.59,"c":-0.7,"d":-0.6,"v":3},{"a":0.59,"b":0.69,"c":-0.7,"d":-0.6,"v":1},{"a":-0.74,"b":-0.62,"c":-0.7,"d":-0.6,"v":-2},{"a":-0.36,"b":-0.2,"c":-0.8,"d":-0.7,"v":2},{"a":-0.2,"b":0.3,"c":-0.8,"d":-0.7,"v":3},{"a":0.3,"b":0.49,"c":-0.8,"d":-0.7,"v":2},{"a":-0.13,"b":0.3,"c":-0.9,"d":-0.8,"v":1},{"a":-0.52,"b":-0.42,"c":-0.9,"d":-0.8,"v":-2},{"a":-0.36,"b":-0.2,"c":-1,"d":-0.9,"v":-1}],
"map3":[{"a":-0.31,"b":0.27,"c":0.9,"d":1,"v":-2},{"a":-0.57,"b":-0.15,"c":0.8,"d":0.9,"v":-3},{"a":-0.15,"b":0.31,"c":0.8,"d":0.9,"v":-1},{"a":-0.73,"b":-0.42,"c":0.7,"d":0.8,"v":-3},{"a":-0.42,"b":-0.15,"c":0.7,"d":0.8,"v":-1},{"a":-0.15,"b":0.31,"c":0.7,"d":0.8,"v":1},{"a":-0.8,"b":-0.57,"c":0.6,"d":0.7,"v":-2},{"a":-0.23,"b":0.42,"c":0.6,"d":0.7,"v":2},{"a":-0.88,"b":-0.69,"c":0.5,"d":0.6,"v":-2},{"a":-0.34,"b":-0.08,"c":0.5,"d":0.6,"v":2},{"a":-0.08,"b":0.08,"c":0.5,"d":0.6,"v":3},{"a":0.08,"b":0.27,"c":0.5,"d":0.6,"v":4},{"a":0.27,"b":0.42,"c":0.5,"d":0.6,"v":3},{"a":-0.92,"b":-0.77,"c":0.4,"d":0.5,"v":-1},{"a":-0.46,"b":-0.23,"c":0.4,"d":0.5,"v":2},{"a":-0.23,"b":0.04,"c":0.4,"d":0.5,"v":3},{"a":0.04,"b":0.27,"c":0.4,"d":0.5,"v":4},{"a":0.27,"b":0.5,"c":0.4,"d":0.5,"v":2},{"a":-0.65,"b":0.08,"c":0.3,"d":0.4,"v":2},{"a":0.08,"b":0.27,"c":0.3,"d":0.4,"v":4},{"a":0.27,"b":0.5,"c":0.3,"d":0.4,"v":2},{"a":-0.77,"b":-0.46,"c":0.2,"d":0.3,"v":2},{"a":-0.46,"b":-0.34,"c":0.2,"d":0.3,"v":3},{"a":-0.34,"b":0.08,"c":0.2,"d":0.3,"v":1},{"a":0.08,"b":0.54,"c":0.2,"d":0.3,"v":2},{"a":-0.8,"b":-0.38,"c":0.1,"d":0.2,"v":2},{"a":-0.38,"b":0.08,"c":0.1,"d":0.2,"v":1},{"a":0.08,"b":0.57,"c":0.1,"d":0.2,"v":2},{"a":-0.82,"b":-0.42,"c":0,"d":0.1,"v":3},{"a":-0.42,"b":0.08,"c":0,"d":0.1,"v":1},{"a":0.08,"b":0.5,"c":0,"d":0.1,"v":2},{"a":0.5,"b":0.69,"c":0,"d":0.1,"v":1},{"a":-0.8,"b":-0.65,"c":-0.1,"d":0,"v":2},{"a":-0.65,"b":-0.46,"c":-0.1,"d":0,"v":4},{"a":-0.46,"b":0.2,"c":-0.1,"d":0,"v":3},{"a":0.2,"b":0.77,"c":-0.1,"d":0,"v":2},{"a":-0.77,"b":-0.61,"c":-0.2,"d":-0.1,"v":2},{"a":-0.61,"b":0,"c":-0.2,"d":-0.1,"v":4},{"a":0,"b":0.46,"c":-0.2,"d":-0.1,"v":3},{"a":0.46,"b":0.8,"c":-0.2,"d":-0.1,"v":2},{"a":-0.73,"b":-0.57,"c":-0.3,"d":-0.2,"v":2},{"a":-0.57,"b":0.08,"c":-0.3,"d":-0.2,"v":4},{"a":0.08,"b":0.57,"c":-0.3,"d":-0.2,"v":3},{"a":0.57,"b":0.82,"c":-0.3,"d":-0.2,"v":1},{"a":-0.65,"b":-0.46,"c":-0.4,"d":-0.3,"v":3},{"a":-0.46,"b":-0.42,"c":-0.4,"d":-0.3,"v":4},{"a":-0.42,"b":-0.11,"c":-0.4,"d":-0.3,"v":5},{"a":-0.11,"b":0.57,"c":-0.4,"d":-0.3,"v":4},{"a":0.57,"b":0.77,"c":-0.4,"d":-0.3,"v":1},{"a":-0.61,"b":-0.5,"c":-0.5,"d":-0.4,"v":2},{"a":-0.5,"b":-0.34,"c":-0.5,"d":-0.4,"v":4},{"a":-0.34,"b":-0.08,"c":-0.5,"d":-0.4,"v":5},{"a":-0.08,"b":0.5,"c":-0.5,"d":-0.4,"v":4},{"a":0.5,"b":0.73,"c":-0.5,"d":-0.4,"v":2},{"a":-0.52,"b":-0.38,"c":-0.6,"d":-0.5,"v":2},{"a":-0.38,"b":0.46,"c":-0.6,"d":-0.5,"v":4},{"a":0.46,"b":0.69,"c":-0.6,"d":-0.5,"v":2},{"a":-0.34,"b":-0.27,"c":-0.7,"d":-0.6,"v":2},{"a":-0.27,"b":0.31,"c":-0.7,"d":-0.6,"v":4},{"a":0.31,"b":0.54,"c":-0.7,"d":-0.6,"v":2},{"a":-0.27,"b":-0.15,"c":-0.8,"d":-0.7,"v":1},{"a":-0.15,"b":0.15,"c":-0.8,"d":-0.7,"v":3},{"a":0.15,"b":0.38,"c":-0.8,"d":-0.7,"v":2},{"a":-0.15,"b":0.08,"c":-0.9,"d":-0.8,"v":1}],
"map4":[{"a":-0.51,"b":-0.28,"c":0.85,"d":0.95,"v":-3},{"a":-0.28,"b":0.26,"c":0.85,"d":0.95,"v":-1},{"a":-0.7,"b":-0.51,"c":0.75,"d":0.85,"v":-2},{"a":-0.51,"b":-0.2,"c":0.75,"d":0.85,"v":-1},{"a":-0.12,"b":0.34,"c":0.75,"d":0.85,"v":1},{"a":-0.81,"b":-0.62,"c":0.65,"d":0.75,"v":-1},{"a":-0.28,"b":0.38,"c":0.65,"d":0.75,"v":1},{"a":-0.89,"b":-0.7,"c":0.55,"d":0.65,"v":-1},{"a":-0.43,"b":0.45,"c":0.55,"d":0.65,"v":2},{"a":-0.58,"b":-0.28,"c":0.45,"d":0.55,"v":2},{"a":-0.28,"b":0.26,"c":0.45,"d":0.55,"v":3},{"a":0.26,"b":0.57,"c":0.45,"d":0.55,"v":2},{"a":-0.74,"b":-0.51,"c":0.35,"d":0.45,"v":2},{"a":-0.51,"b":-0.12,"c":0.35,"d":0.45,"v":3},{"a":-0.12,"b":0.03,"c":0.35,"d":0.45,"v":4},{"a":0.03,"b":0.26,"c":0.35,"d":0.45,"v":3},{"a":0.26,"b":0.57,"c":0.35,"d":0.45,"v":2},{"a":-0.77,"b":-0.62,"c":0.25,"d":0.35,"v":2},{"a":-0.62,"b":0.53,"c":0.25,"d":0.35,"v":3},{"a":0.53,"b":0.68,"c":0.25,"d":0.35,"v":2},{"a":-0.81,"b":-0.66,"c":0.15,"d":0.25,"v":2},{"a":-0.66,"b":0.57,"c":0.15,"d":0.25,"v":3},{"a":0.57,"b":0.72,"c":0.15,"d":0.25,"v":1},{"a":-0.83,"b":-0.66,"c":0.05,"d":0.15,"v":2},{"a":-0.66,"b":-0.51,"c":0.05,"d":0.15,"v":3},{"a":-0.51,"b":-0.2,"c":0.05,"d":0.15,"v":2},{"a":-0.2,"b":0.57,"c":0.05,"d":0.15,"v":3},{"a":0.57,"b":0.76,"c":0.05,"d":0.15,"v":1},{"a":-0.83,"b":-0.66,"c":-0.05,"d":0.05,"v":2},{"a":-0.66,"b":-0.51,"c":-0.05,"d":0.05,"v":3},{"a":-0.51,"b":-0.2,"c":-0.05,"d":0.05,"v":2},{"a":-0.2,"b":0.57,"c":-0.05,"d":0.05,"v":3},{"a":0.57,"b":0.76,"c":-0.05,"d":0.05,"v":1},{"a":-0.83,"b":-0.66,"c":-0.15,"d":-0.05,"v":2},{"a":-0.66,"b":-0.47,"c":-0.15,"d":-0.05,"v":3},{"a":-0.47,"b":-0.16,"c":-0.15,"d":-0.05,"v":2},{"a":-0.16,"b":0.61,"c":-0.15,"d":-0.05,"v":3},{"a":0.61,"b":0.76,"c":-0.15,"d":-0.05,"v":1},{"a":-0.79,"b":-0.62,"c":-0.25,"d":-0.15,"v":2},{"a":-0.62,"b":0.61,"c":-0.25,"d":-0.15,"v":3},{"a":0.61,"b":0.76,"c":-0.25,"d":-0.15,"v":1},{"a":-0.74,"b":-0.54,"c":-0.35,"d":-0.25,"v":2},{"a":-0.54,"b":0.53,"c":-0.35,"d":-0.25,"v":3},{"a":0.53,"b":0.68,"c":-0.35,"d":-0.25,"v":1},{"a":-0.62,"b":-0.43,"c":-0.45,"d":-0.35,"v":2},{"a":-0.43,"b":0.26,"c":-0.45,"d":-0.35,"v":3},{"a":0.26,"b":0.53,"c":-0.45,"d":-0.35,"v":2},{"a":-0.54,"b":-0.35,"c":-0.55,"d":-0.45,"v":2},{"a":-0.35,"b":0.11,"c":-0.55,"d":-0.45,"v":3},{"a":0.11,"b":0.41,"c":-0.55,"d":-0.45,"v":2},{"a":-0.47,"b":-0.12,"c":-0.65,"d":-0.55,"v":2},{"a":-0.12,"b":0.03,"c":-0.65,"d":-0.55,"v":3},{"a":0.03,"b":0.34,"c":-0.65,"d":-0.55,"v":1},{"a":-0.39,"b":0.03,"c":-0.75,"d":-0.65,"v":2},{"a":0.03,"b":0.2,"c":-0.75,"d":-0.65,"v":1},{"a":-0.28,"b":-0.01,"c":-0.85,"d":-0.75,"v":1},{"a":-0.3,"b":0.4,"c":-1,"d":-0.9,"v":-1}],
"box1":[{"a":695,"b":1003,"c":-0.53,"d":5.74}],
"box2":[{"a":699,"b":1040,"c":-0.53,"d":5.78}],
"axis1":[{"a":-200,"b":998,"c":6.57}],
"axis2":[{"a":-200,"b":990,"c":6.54}],
"onset":[{"t":0,"c":-5,"d":5.05}],
"sep":[{"a":-326.2,"b":2247,"c":9.11}]
},
"layer":[
{"layer":[
{"data":{"name":"frame"},"mark":{"type":"rect"},"encoding":{"x":{"field":"a","type":"quantitative","scale":{"domain":[-384.3,2246.9],"nice":false,"zero":false},"axis":null},"x2":{"field":"b"},"y":{"field":"c","type":"quantitative","scale":{"domain":[11.472,-8.81],"nice":false,"zero":false},"axis":null},"y2":{"field":"d"},"color":{"field":"k","type":"nominal","legend":null,"scale":{"domain":["frame","paper"],"range":["#5a0082","#ffffff"]}}}},
{"data":{"name":"sep"},"mark":{"type":"rule","stroke":"#808080","strokeWidth":2},"encoding":{"x":{"field":"a","type":"quantitative","scale":{"domain":[-384.3,2246.9],"nice":false,"zero":false},"axis":null},"x2":{"field":"b"},"y":{"field":"c","type":"quantitative","scale":{"domain":[11.472,-8.81],"nice":false,"zero":false},"axis":null}}},
{"data":{"name":"axis1"},"mark":{"type":"rule","stroke":"#000000","strokeWidth":5},"encoding":{"x":{"field":"a","type":"quantitative","scale":{"domain":[-384.3,2246.9],"nice":false,"zero":false},"axis":null},"x2":{"field":"b"},"y":{"field":"c","type":"quantitative","scale":{"domain":[11.472,-8.81],"nice":false,"zero":false},"axis":null}}},
{"data":{"values":[{"t":-200,"c":-5.05,"d":5.05}]},"mark":{"type":"rule","stroke":"#808080","strokeWidth":7},"encoding":{"x":{"field":"t","type":"quantitative","scale":{"domain":[-384.3,2246.9],"nice":false,"zero":false},"axis":null},"y":{"field":"c","type":"quantitative","scale":{"domain":[11.472,-8.81],"nice":false,"zero":false},"axis":null},"y2":{"field":"d"}}},
{"data":{"name":"onset"},"mark":{"type":"rule","stroke":"#999999","strokeWidth":7,"strokeDash":[12,2]},"encoding":{"x":{"field":"t","type":"quantitative","scale":{"domain":[-384.3,2246.9],"nice":false,"zero":false},"axis":null},"y":{"field":"c","type":"quantitative","scale":{"domain":[11.472,-8.81],"nice":false,"zero":false},"axis":null},"y2":{"field":"d"}}},
{"data":{"name":"box1"},"mark":{"type":"rect","fill":null,"stroke":"#404040","strokeWidth":8},"encoding":{"x":{"field":"a","type":"quantitative","scale":{"domain":[-384.3,2246.9],"nice":false,"zero":false},"axis":null},"x2":{"field":"b"},"y":{"field":"c","type":"quantitative","scale":{"domain":[11.472,-8.81],"nice":false,"zero":false},"axis":null},"y2":{"field":"d"}}},
{"data":{"values":[{"t":842,"v":5.0,"label":"LPP"}]},"mark":{"type":"text","font":"Liberation Sans","fontWeight":"bold","fontSize":60,"align":"center","baseline":"alphabetic","color":"#000000"},"encoding":{"x":{"field":"t","type":"quantitative","scale":{"domain":[-384.3,2246.9],"nice":false,"zero":false},"axis":null},"y":{"field":"v","type":"quantitative","scale":{"domain":[11.472,-8.81],"nice":false,"zero":false},"axis":null},"text":{"field":"label"}}},
{"data":{"values":[{"t":1,"v":-6.5,"label":"Younger adults"}]},"mark":{"type":"text","font":"Liberation Sans","fontWeight":"bold","fontSize":62,"align":"left","baseline":"alphabetic","color":"#000000"},"encoding":{"x":{"field":"t","type":"quantitative","scale":{"domain":[-384.3,2246.9],"nice":false,"zero":false},"axis":null},"y":{"field":"v","type":"quantitative","scale":{"domain":[11.472,-8.81],"nice":false,"zero":false},"axis":null},"text":{"field":"label"}}}
]},
{"data":{"name":"young"},"mark":{"type":"line","strokeWidth":4,"strokeJoin":"round"},"encoding":{"x":{"field":"t","type":"quantitative","scale":{"domain":[-384.3,2246.9],"nice":false,"zero":false},"axis":{"orient":"bottom","offset":-240,"domain":false,"grid":false,"title":null,"values":[0,200,400,600,800],"tickSize":17,"tickWidth":2,"tickColor":"#404040","labelFont":"Liberation Sans","labelFontSize":62,"labelColor":"#000000","labelPadding":7,"labelFlush":false,"labelOverlap":false,"format":"d","zindex":1}},"y":{"field":"v","type":"quantitative","scale":{"domain":[11.472,-8.81],"nice":false,"zero":false},"axis":{"orient":"left","offset":-190,"domain":false,"grid":false,"title":"[µV]","titleAngle":0,"titleX":-125,"titleY":110,"titleAlign":"left","titleBaseline":"alphabetic","titleFont":"Liberation Sans","titleFontSize":60,"titleFontWeight":"normal","values":[-5,0,5],"tickSize":18,"tickWidth":8,"tickColor":"#808080","tickOpacity":{"condition":{"test":"datum.value === 0","value":0},"value":1},"labelExpr":"'' + datum.value","labelFont":"Liberation Sans","labelFontSize":60,"labelColor":"#000000","labelPadding":12,"labelOffset":-4,"zindex":1}},"color":{"field":"s","type":"nominal","scale":{"domain":["view-neutral","view-unpleasant","view-pleasant"],"range":["#222222","#ff0000","#0000ff"]},"legend":{"orient":"none","legendX":650,"legendY":938,"direction":"horizontal","columns":3,"title":null,"padding":0,"symbolType":"stroke","symbolSize":8100,"symbolStrokeWidth":6,"labelFont":"Liberation Sans","labelFontSize":62,"labelColor":"#000000","labelOffset":17,"columnPadding":80,"labelLimit":600,"clipHeight":70}}}},
{"layer":[
{"data":{"name":"axis2"},"mark":{"type":"rule","stroke":"#808080","strokeWidth":9,"clip":true},"encoding":{"x":{"field":"a","type":"quantitative","scale":{"domain":[-1657.8,973.4],"nice":false,"zero":false},"axis":null},"x2":{"field":"b"},"y":{"field":"c","type":"quantitative","scale":{"domain":[11.472,-8.81],"nice":false,"zero":false},"axis":null}}},
{"data":{"name":"onset"},"mark":{"type":"rule","stroke":"#999999","strokeWidth":7,"strokeDash":[12,2]},"encoding":{"x":{"field":"t","type":"quantitative","scale":{"domain":[-1657.8,973.4],"nice":false,"zero":false},"axis":null},"y":{"field":"c","type":"quantitative","scale":{"domain":[11.472,-8.81],"nice":false,"zero":false},"axis":null},"y2":{"field":"d"}}},
{"data":{"name":"box2"},"mark":{"type":"rect","fill":null,"stroke":"#303030","strokeWidth":8,"clip":true},"encoding":{"x":{"field":"a","type":"quantitative","scale":{"domain":[-1657.8,973.4],"nice":false,"zero":false},"axis":null},"x2":{"field":"b"},"y":{"field":"c","type":"quantitative","scale":{"domain":[11.472,-8.81],"nice":false,"zero":false},"axis":null},"y2":{"field":"d"}}},
{"data":{"values":[{"t":857,"v":5.12,"label":"LPP"}]},"mark":{"type":"text","font":"Liberation Sans","fontWeight":"bold","fontSize":60,"align":"center","baseline":"alphabetic","color":"#000000","clip":true},"encoding":{"x":{"field":"t","type":"quantitative","scale":{"domain":[-1657.8,973.4],"nice":false,"zero":false},"axis":null},"y":{"field":"v","type":"quantitative","scale":{"domain":[11.472,-8.81],"nice":false,"zero":false},"axis":null},"text":{"field":"label"}}},
{"data":{"values":[{"t":-1,"v":-6.39,"label":"Older adults"}]},"mark":{"type":"text","font":"Liberation Sans","fontWeight":"bold","fontSize":62,"align":"left","baseline":"alphabetic","color":"#000000"},"encoding":{"x":{"field":"t","type":"quantitative","scale":{"domain":[-1657.8,973.4],"nice":false,"zero":false},"axis":null},"y":{"field":"v","type":"quantitative","scale":{"domain":[11.472,-8.81],"nice":false,"zero":false},"axis":null},"text":{"field":"label"}}},
{"data":{"values":[{"t":906,"v":7.96,"label":"[ms]"}]},"mark":{"type":"text","font":"Liberation Sans","fontSize":60,"align":"left","baseline":"alphabetic","color":"#000000","clip":true},"encoding":{"x":{"field":"t","type":"quantitative","scale":{"domain":[-1657.8,973.4],"nice":false,"zero":false},"axis":null},"y":{"field":"v","type":"quantitative","scale":{"domain":[11.472,-8.81],"nice":false,"zero":false},"axis":null},"text":{"field":"label"}}}
]},
{"data":{"name":"older"},"mark":{"type":"line","strokeWidth":4,"strokeJoin":"round","clip":true},"encoding":{"x":{"field":"t","type":"quantitative","scale":{"domain":[-1657.8,973.4],"nice":false,"zero":false},"axis":{"orient":"bottom","offset":-240,"domain":false,"grid":false,"title":null,"values":[0,200,400,600,800],"tickSize":13,"tickWidth":2,"tickColor":"#303030","labelFont":"Liberation Sans","labelFontSize":60,"labelColor":"#000000","labelPadding":5,"labelFlush":false,"labelOverlap":false,"format":"d","zindex":1}},"y":{"field":"v","type":"quantitative","scale":{"domain":[11.472,-8.81],"nice":false,"zero":false},"axis":null},"color":{"field":"s","type":"nominal","scale":{"domain":["view-neutral","view-unpleasant","view-pleasant"],"range":["#222222","#ff0000","#0000ff"]},"legend":null}}},
{"layer":[
{"data":{"name":"map1"},"mark":{"type":"rect"},"encoding":{"x":{"field":"a","type":"quantitative","scale":{"domain":[-9.943,15.698],"nice":false,"zero":false},"axis":null},"x2":{"field":"b"},"y":{"field":"c","type":"quantitative","scale":{"domain":[-7.153,2.162],"nice":false,"zero":false},"axis":null},"y2":{"field":"d"},"color":{"field":"v","type":"quantitative","legend":null,"scale":{"domain":[-4,0,4,8],"range":["#0000ff","#ffffff","#ff0000","#000000"],"interpolate":"rgb"}}}},
{"data":{"name":"electrodes"},"mark":{"type":"point","shape":"square","filled":true,"size":22,"color":"#111111","opacity":0.75},"encoding":{"x":{"field":"u","type":"quantitative","scale":{"domain":[-9.943,15.698],"nice":false,"zero":false},"axis":null},"y":{"field":"w","type":"quantitative","scale":{"domain":[-7.153,2.162],"nice":false,"zero":false},"axis":null}}},
{"data":{"name":"rim"},"mark":{"type":"line","stroke":"#666666","strokeWidth":3,"strokeDash":[5,7]},"encoding":{"x":{"field":"u","type":"quantitative","scale":{"domain":[-9.943,15.698],"nice":false,"zero":false},"axis":null},"y":{"field":"w","type":"quantitative","scale":{"domain":[-7.153,2.162],"nice":false,"zero":false},"axis":null},"order":{"field":"i","type":"quantitative"}}}
]},
{"layer":[
{"data":{"name":"map2"},"mark":{"type":"rect"},"encoding":{"x":{"field":"a","type":"quantitative","scale":{"domain":[-12.912,13.735],"nice":false,"zero":false},"axis":null},"x2":{"field":"b"},"y":{"field":"c","type":"quantitative","scale":{"domain":[-7.243,2.159],"nice":false,"zero":false},"axis":null},"y2":{"field":"d"},"color":{"field":"v","type":"quantitative","legend":null,"scale":{"domain":[-4,0,4,8],"range":["#0000ff","#ffffff","#ff0000","#000000"],"interpolate":"rgb"}}}},
{"data":{"name":"electrodes"},"mark":{"type":"point","shape":"square","filled":true,"size":22,"color":"#111111","opacity":0.75},"encoding":{"x":{"field":"u","type":"quantitative","scale":{"domain":[-12.912,13.735],"nice":false,"zero":false},"axis":null},"y":{"field":"w","type":"quantitative","scale":{"domain":[-7.243,2.159],"nice":false,"zero":false},"axis":null}}},
{"data":{"name":"rim"},"mark":{"type":"line","stroke":"#666666","strokeWidth":3,"strokeDash":[5,7]},"encoding":{"x":{"field":"u","type":"quantitative","scale":{"domain":[-12.912,13.735],"nice":false,"zero":false},"axis":null},"y":{"field":"w","type":"quantitative","scale":{"domain":[-7.243,2.159],"nice":false,"zero":false},"axis":null},"order":{"field":"i","type":"quantitative"}}}
]},
{"layer":[
{"data":{"name":"map3"},"mark":{"type":"rect"},"encoding":{"x":{"field":"a","type":"quantitative","scale":{"domain":[-22.98,3.408],"nice":false,"zero":false},"axis":null},"x2":{"field":"b"},"y":{"field":"c","type":"quantitative","scale":{"domain":[-7.333,2.248],"nice":false,"zero":false},"axis":null},"y2":{"field":"d"},"color":{"field":"v","type":"quantitative","legend":null,"scale":{"domain":[-4,0,4,8],"range":["#0000ff","#ffffff","#ff0000","#000000"],"interpolate":"rgb"}}}},
{"data":{"name":"electrodes"},"mark":{"type":"point","shape":"square","filled":true,"size":22,"color":"#111111","opacity":0.75},"encoding":{"x":{"field":"u","type":"quantitative","scale":{"domain":[-22.98,3.408],"nice":false,"zero":false},"axis":null},"y":{"field":"w","type":"quantitative","scale":{"domain":[-7.333,2.248],"nice":false,"zero":false},"axis":null}}},
{"data":{"name":"rim"},"mark":{"type":"line","stroke":"#666666","strokeWidth":3,"strokeDash":[5,7]},"encoding":{"x":{"field":"u","type":"quantitative","scale":{"domain":[-22.98,3.408],"nice":false,"zero":false},"axis":null},"y":{"field":"w","type":"quantitative","scale":{"domain":[-7.333,2.248],"nice":false,"zero":false},"axis":null},"order":{"field":"i","type":"quantitative"}}}
]},
{"layer":[
{"data":{"name":"map4"},"mark":{"type":"rect","clip":true},"encoding":{"x":{"field":"a","type":"quantitative","scale":{"domain":[-25.485,0.903],"nice":false,"zero":false},"axis":null},"x2":{"field":"b"},"y":{"field":"c","type":"quantitative","scale":{"domain":[-7.622,2.388],"nice":false,"zero":false},"axis":null},"y2":{"field":"d"},"color":{"field":"v","type":"quantitative","legend":null,"scale":{"domain":[-4,0,4,8],"range":["#0000ff","#ffffff","#ff0000","#000000"],"interpolate":"rgb"}}}},
{"data":{"name":"electrodes"},"mark":{"type":"point","shape":"square","filled":true,"size":22,"color":"#111111","opacity":0.75,"clip":true},"encoding":{"x":{"field":"u","type":"quantitative","scale":{"domain":[-25.485,0.903],"nice":false,"zero":false},"axis":null},"y":{"field":"w","type":"quantitative","scale":{"domain":[-7.622,2.388],"nice":false,"zero":false},"axis":null}}},
{"data":{"name":"rim"},"mark":{"type":"line","stroke":"#666666","strokeWidth":3,"strokeDash":[5,7],"clip":true},"encoding":{"x":{"field":"u","type":"quantitative","scale":{"domain":[-25.485,0.903],"nice":false,"zero":false},"axis":null},"y":{"field":"w","type":"quantitative","scale":{"domain":[-7.622,2.388],"nice":false,"zero":false},"axis":null},"order":{"field":"i","type":"quantitative"}}}
]}
],
"resolve":{"scale":{"x":"independent","y":"independent","color":"independent"},"axis":{"x":"independent","y":"independent"},"legend":{"color":"independent"}}}
